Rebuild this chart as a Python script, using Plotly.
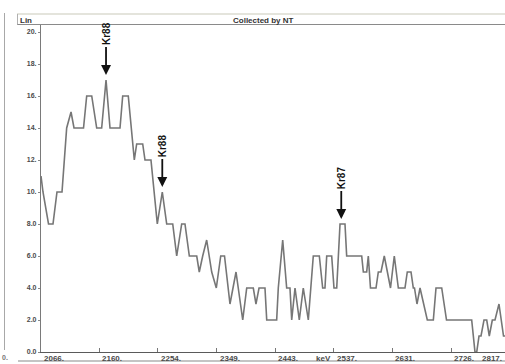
import plotly.graph_objects as go

# ---- data ----
energy_kev = [2066.0, 2069.2, 2078.1, 2085.3, 2091.7, 2099.8, 2107.3, 2114.3, 2119.1, 2134.4,
              2139.5, 2147.6, 2155.6, 2163.6, 2170.6, 2177.0, 2193.1, 2197.4, 2206.4, 2216.1,
              2219.9, 2229.6, 2233.3, 2242.9, 2253.1, 2261.1, 2268.2, 2277.9, 2284.3, 2288.0,
              2292.3, 2297.6, 2304.6, 2316.5, 2320.6, 2326.1, 2332.5, 2340.6, 2348.0, 2355.1,
              2361.2, 2370.0, 2379.7, 2390.5, 2396.9, 2407.5, 2411.8, 2416.7, 2426.3, 2429.1,
              2445.1, 2447.7, 2454.8, 2461.2, 2466.5, 2469.3, 2474.6, 2481.5, 2487.9, 2496.0,
              2504.0, 2513.7, 2519.1, 2522.8, 2525.6, 2533.6, 2537.3, 2541.7, 2547.0, 2555.0,
              2557.7, 2581.9, 2584.5, 2589.9, 2592.5, 2596.0, 2604.9, 2608.6, 2612.9, 2618.2,
              2622.6, 2628.2, 2634.3, 2640.8, 2651.5, 2655.2, 2661.2, 2664.9, 2666.8, 2670.8,
              2675.7, 2681.0, 2687.4, 2697.1, 2701.4, 2710.6, 2718.3, 2758.8, 2764.1, 2766.9,
              2770.6, 2773.8, 2778.6, 2783.0, 2787.1, 2792.0, 2796.3, 2802.7, 2810.0, 2814.0]
counts = [11, 10, 8, 8, 10, 10, 14, 15, 14, 14,
          16, 16, 14, 14, 17, 14, 14, 16, 16, 12,
          13, 13, 12, 12, 8, 10, 8, 8, 6, 7,
          8, 8, 6, 6, 5, 6, 7, 5, 4, 6,
          6, 3, 5, 2, 4, 4, 3, 4, 4, 2,
          2, 4, 7, 4, 4, 2, 4, 2, 4, 2,
          6, 6, 4, 4, 6, 6, 4, 4, 8, 8,
          6, 6, 5, 5, 6, 4, 4, 5, 5, 6,
          5, 4, 6, 4, 4, 5, 5, 4, 4, 3,
          4, 3, 2, 2, 4, 4, 2, 2, 0, 0,
          1, 1, 2, 2, 1, 2, 2, 3, 1, 1]

x_tick_values = [2066, 2160, 2254, 2349, 2443, 2537, 2631, 2726, 2817]
x_tick_labels = ["2066.", "2160.", "2254.", "2349.", "2443.", "2537.", "2631.", "2726.", "2817."]
y_tick_values = [0, 2, 4, 6, 8, 10, 12, 14, 16, 18, 20]
y_tick_labels = ["0.0", "2.0", "4.0", "6.0", "8.0", "10.", "12.", "14.", "16.", "18.", "20."]

peak_names = ["Kr88", "Kr88", "Kr87"]
peak_energies = [2170.6, 2261.1, 2549.0]
peak_counts = [17, 10, 8]

x_unit = "keV"
title_left = "Lin"
title_center = "Collected by NT"

# ---- figure ----
W, H = 505, 364
ML, MR, MT, MB = 41, 0, 25, 12
PW, PH = W - ML - MR, H - MT - MB
kev_per_px = 1.6086
px_per_count = 16.0
x_max = 2066 + PW * kev_per_px
y_max = PH / px_per_count

FONT = "Arial, Liberation Sans, sans-serif"
TICKFONT = dict(family=FONT, size=8, color="#4a4a4a", weight="bold")


def px_x(xp):
    return (xp - ML) / PW


def px_y(yp):
    return (H - MB - yp) / PH


fig = go.Figure()
fig.add_trace(go.Scatter(
    x=energy_kev, y=counts, mode="lines",
    line=dict(color="#767676", width=1.6),
    hoverinfo="skip", showlegend=False, cliponaxis=True,
))

annotations = []
# x tick labels, left-aligned at the tick (the last one is pulled in at the right edge)
for v, t in zip(x_tick_values, x_tick_labels):
    if v <= x_max:
        annotations.append(dict(x=v, xref="x", y=0, yref="paper", yanchor="top", xanchor="left",
                                text=t, showarrow=False, xshift=1, font=TICKFONT))
    else:
        annotations.append(dict(x=1, xref="paper", y=0, yref="paper", yanchor="top",
                                xanchor="right", text=t, showarrow=False, xshift=-1,
                                font=TICKFONT))
annotations.append(dict(x=2537, xref="x", y=0, yref="paper", yanchor="top", xanchor="right",
                        text=x_unit, showarrow=False, xshift=-1, font=TICKFONT))

# peak arrows
for name, e, c in zip(peak_names, peak_energies, peak_counts):
    annotations.append(dict(x=e, y=c, xref="x", yref="y", text="<b>%s</b>" % name,
                            textangle=-90, showarrow=True, arrowhead=2, arrowsize=1.1,
                            arrowwidth=1.8, arrowcolor="#111111", ax=0, ay=-46, standoff=5,
                            font=dict(family=FONT, size=10, color="#111111")))

# header texts
annotations.append(dict(x=px_x(18), xref="paper", y=px_y(20), yref="paper", xanchor="left",
                        yanchor="middle", text=title_left, showarrow=False,
                        font=dict(family=FONT, size=8, color="#333333", weight="bold")))
annotations.append(dict(x=px_x(263), xref="paper", y=px_y(20), yref="paper", xanchor="center",
                        yanchor="middle", text=title_center, showarrow=False,
                        font=dict(family=FONT, size=8, color="#333333", weight="bold")))
annotations.append(dict(x=px_x(0), xref="paper", y=px_y(357), yref="paper", xanchor="left",
                        yanchor="middle", text="0.", showarrow=False,
                        font=dict(family=FONT, size=7, color="#777777", weight="bold")))

shapes = []


def hline(y_px, x0_px, x1_px, color, width):
    shapes.append(dict(type="line", xref="paper", yref="paper",
                       x0=px_x(x0_px), x1=px_x(x1_px), y0=px_y(y_px), y1=px_y(y_px),
                       line=dict(color=color, width=width)))


def vline(x_px, y0_px, y1_px, color, width):
    shapes.append(dict(type="line", xref="paper", yref="paper",
                       x0=px_x(x_px), x1=px_x(x_px), y0=px_y(y0_px), y1=px_y(y1_px),
                       line=dict(color=color, width=width)))


hline(14, 17, 506, "#e4e4dc", 2)
hline(24.5, 17, 506, "#8a8a8a", 1.2)
vline(17.5, 14, 24.5, "#b0b0b0", 1)
hline(361, 18, 506, "#8a8a8a", 1.2)
vline(4.5, 13, 350, "#a8a8a8", 1)

fig.update_layout(
    width=W, height=H,
    margin=dict(l=ML, r=MR, t=MT, b=MB, pad=0),
    paper_bgcolor="white", plot_bgcolor="white",
    xaxis=dict(range=[2066, x_max], showgrid=False, zeroline=False, showline=True,
               linecolor="#5a5a5a", linewidth=1.2, ticks="inside", ticklen=4, tickwidth=1,
               tickcolor="#777777", tickvals=x_tick_values, showticklabels=False, fixedrange=True),
    yaxis=dict(range=[0, y_max], showgrid=False, zeroline=False, showline=True,
               linecolor="#7a7a7a", linewidth=1.2, ticks="outside", ticklen=2, tickwidth=1,
               tickcolor="#888888", tickvals=y_tick_values, ticktext=y_tick_labels,
               tickfont=dict(family=FONT, size=7, color="#4a4a4a", weight="bold"),
               fixedrange=True),
    annotations=annotations,
    shapes=shapes,
    showlegend=False,
)

fig.write_html("out.html", config={"displayModeBar": False})
